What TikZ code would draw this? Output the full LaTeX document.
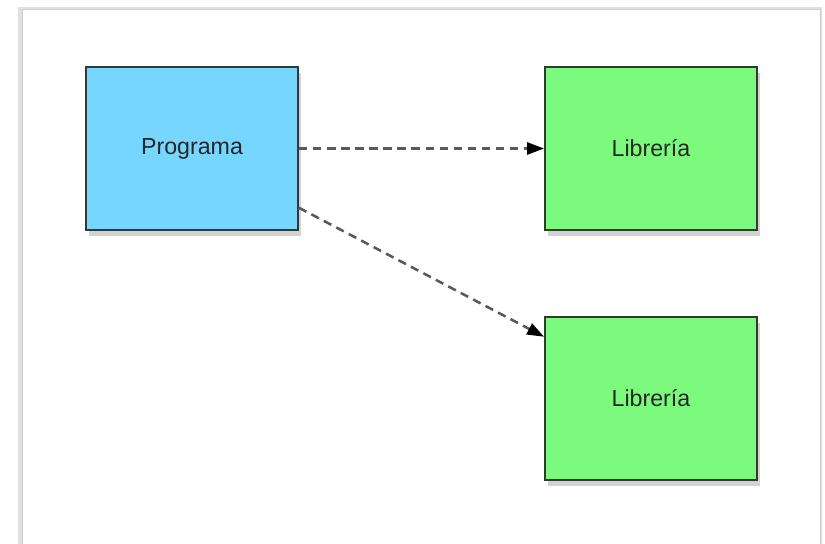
\documentclass[tikz,border=0pt]{standalone}
\usepackage{fontspec}
\setmainfont{Liberation Sans}
\usepackage{tikz}
\usetikzlibrary{arrows.meta}
\usetikzlibrary{shadows}
\definecolor{progblue}{HTML}{77D6FF}
\definecolor{libgreen}{HTML}{7CFA7E}
\definecolor{boxline}{HTML}{333833}
\tikzset{box/.style = {draw = boxline, line width = 1.3pt, minimum width = 5.3cm,
    minimum height = 4.075cm, inner sep = 0, text = black!85,
    font = \fontsize{16.5}{19}\selectfont,
    drop shadow = {opacity = 0.35, shadow xshift = 2pt, shadow yshift = -4pt}}}
\tikzset{uses/.style = {draw = black!65, line width = 1.8pt, dash pattern = on 6pt off 4pt,
    -{Triangle[length = 12pt, width = 8.5pt, black]}}}

\begin{document}
\begin{tikzpicture}[x = 0.025cm, y = -0.025cm]
    \useasboundingbox (0, 0) rectangle (825, 544);
    \clip (0, 0) rectangle (825, 544);
    \fill [white] (0, 0) rectangle (825, 544);

    % frame
    \fill [black!12] (18, 7) rectangle (822, 560);
    \fill [white, draw = black!20] (22, 9) rectangle (820, 560);

    \node [box, fill = progblue] (prog) at (192, 148.5) {Programa};
    \node [box, fill = libgreen] (libA) at (651, 148.5) {Librería};
    \node [box, fill = libgreen] (libB) at (651, 398.5) {Librería};

    \draw [uses] (prog) -- (libA);
    \draw [uses] (prog.-29) -- (libB.150);
  \end{tikzpicture}
\end{document}
